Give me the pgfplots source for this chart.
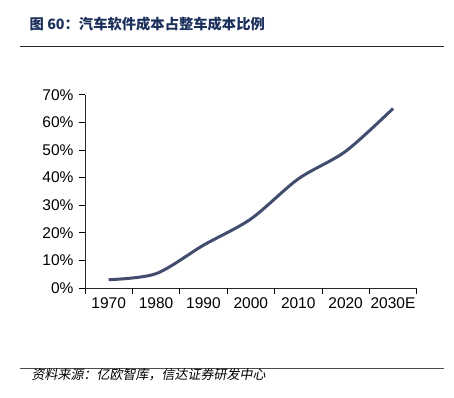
\documentclass[border=0pt]{standalone}
\usepackage{pgfplots}
\pgfplotsset{compat=1.18}
\usepackage{fontspec}
\setmainfont{Liberation Sans}
\newfontfamily\cjk{Noto Sans CJK SC}
\newfontfamily\cjkit[FakeSlant=0.18]{Noto Sans CJK SC}
\definecolor{titlec}{RGB}{28,48,92}
\definecolor{linec}{RGB}{66,76,110}
\begin{document}
\begin{tikzpicture}[x=1bp,y=1bp]
\path (0,0) rectangle (454,397);
\node[anchor=west,inner sep=0,text=titlec] at (29.5,373) {\cjk\bfseries\fontsize{14.3bp}{16bp}\selectfont 图 60：汽车软件成本占整车成本比例};
\draw[line width=0.9bp,black!85] (19.5,351) -- (443.5,351);
\draw[line width=0.9bp,black!70] (19.5,29) -- (443.5,29);
\node[anchor=west,inner sep=0] at (31.5,22.5) {\cjkit\fontsize{13bp}{15bp}\selectfont 资料来源：亿欧智库，信达证券研发中心};
\begin{axis}[
  at={(85bp,109bp)}, anchor=south west,
  scale only axis, width=331.7bp, height=193.3bp,
  axis x line*=bottom, axis y line*=left,
  xmin=-0.5, xmax=6.5, ymin=0, ymax=70,
  xtick={-0.5,0.5,...,6.5},
  x tick label as interval,
  xticklabels={1970,1980,1990,2000,2010,2020,2030E},
  ytick={0,10,...,70},
  yticklabel={\pgfmathprintnumber{\tick}\%},
  /pgf/number format/assume math mode=true,
  tick align=outside,
  major tick length=6bp,
  tick style={black, line width=0.8bp},
  axis line style={black!85, line width=0.9bp},
  ticklabel style={font=\fontsize{15.5bp}{18bp}\selectfont},
  yticklabel style={xshift=-2bp},
  clip=false,
]
\addplot[smooth, color=linec, line width=3bp] coordinates {
(0,3.0) (1,5.2) (2,15.5) (3,25.0) (4,39.5) (5,49.5) (6,65.0)
};
\end{axis}
\end{tikzpicture}
\end{document}
